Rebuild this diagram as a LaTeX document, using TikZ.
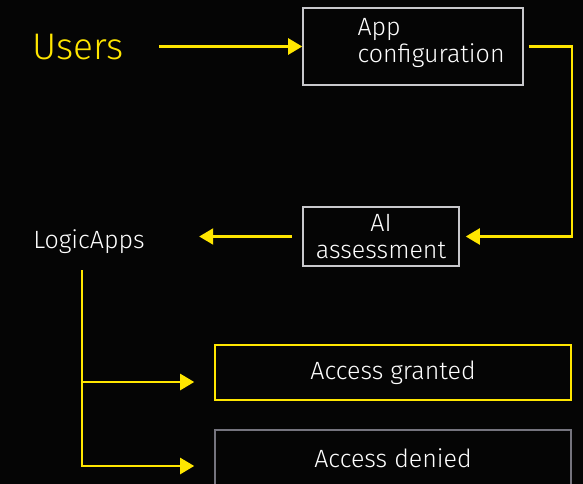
\documentclass[tikz,border=0pt]{standalone}
\usepackage{fontspec}
\setmainfont{Fira Sans Light}
\usetikzlibrary{arrows.meta}
\definecolor{eyyellow}{HTML}{FFE600}
\definecolor{boxgray}{HTML}{C8C8CC}
\definecolor{darkgray}{HTML}{75747E}
\begin{document}
\begin{tikzpicture}[x=1pt, y=-1pt, line width=2.4pt]
        \fill[black!98] (0,0) rectangle (583,484);
        \useasboundingbox (0,0) rectangle (583,484);
        \tikzstyle{txt}=[text=white, font=\fontsize{25}{27}\selectfont, align=center]
        \tikzstyle{bx}=[draw=boxgray, line width=1.6pt, txt, inner sep=0pt]
        \node[text=eyyellow, font=\fontsize{37}{40}\selectfont] (Usr) at (78,47) {Users};
        \node[bx, minimum width=220pt, minimum height=77pt] (Cfg) at (413,46.5) {};
        \node[txt, align=left, anchor=west] (CfgT) at (353,43) {App\\configuration};
        \node[bx, minimum width=156pt, minimum height=59pt] (AI) at (381,236.5) {AI\\assessment};
        \node[txt] (LA) at (89,242) {LogicApps};
        \node[bx, draw=eyyellow, minimum width=356pt, minimum height=55pt] (AG) at (393,372.5) {Access granted};
        \node[bx, draw=darkgray, minimum width=356pt, minimum height=60pt] (AD) at (393,460) {};
        \node[txt] (ADT) at (393,458) {Access denied};
        \coordinate (J) at (82,270);

        \tikzstyle{late}=[-{Triangle[length=14pt,width=16pt]}, draw=eyyellow]
        \draw[late, shorten <=31pt] (Usr.east |- Cfg.west)--(Cfg.west);
        \draw[late, shorten <=5pt, shorten >=6pt] (Cfg.east) -- ++(48,0) |- (AI.east);
        \draw[late, shorten <=10pt, shorten >=50pt] (AI.west)--(AI.west -| LA.east);
        \draw[late, shorten >=20pt] (J) |- ([yshift=-9.5pt]AG.west);
        \draw[late, shorten >=20pt] (J) |- ([yshift=-6pt]AD.west);
    \end{tikzpicture}
\end{document}
